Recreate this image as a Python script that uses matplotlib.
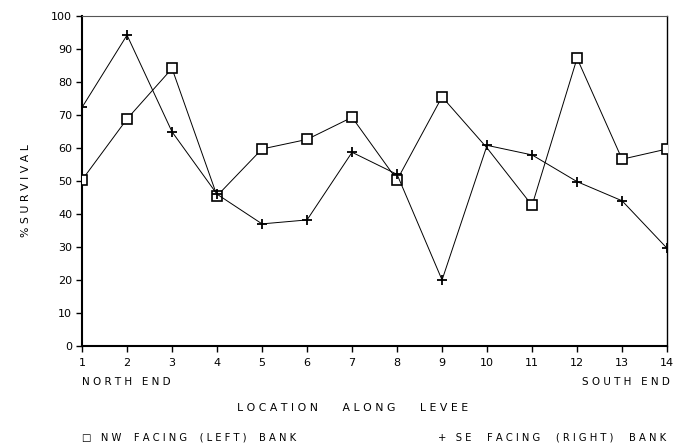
import matplotlib
matplotlib.use("Agg")
import matplotlib.pyplot as plt

locations = list(range(1, 15))
nw_left = [50.3, 68.8, 84.1, 45.5, 59.7, 62.6, 69.3, 50.3, 75.5, 60.0, 42.6, 87.2, 56.6, 59.7]
se_right = [72.3, 94.2, 64.9, 46.0, 37.0, 38.2, 58.7, 52.0, 20.0, 60.8, 57.9, 49.8, 44.0, 29.6]
y_ticks = [0, 10, 20, 30, 40, 50, 60, 70, 80, 90, 100]

def spaced(s, gap="   "):
    return gap.join(" ".join(w) for w in s.split(" "))

plt.rcParams['font.family'] = ['DejaVu Sans']
fig = plt.figure(figsize=(6.87, 4.47), dpi=100)
ax = fig.add_axes([0.1194, 0.2260, 0.8516, 0.7382])

nw_marks = [i for i in range(len(locations)) if locations[i] != 10]
ax.plot(locations, nw_left, color='black', lw=0.7, marker='s', ms=6.5,
        mfc='white', mec='black', mew=1.2, markevery=nw_marks, zorder=3)
ax.plot(locations, se_right, color='black', lw=0.7, marker='+', ms=7,
        mew=1.3, zorder=4)

ax.set_xlim(1, 14)
ax.set_ylim(0, 100)
ax.set_xticks(locations)
ax.set_yticks(y_ticks)
ax.tick_params(axis='both', direction='out', length=4, width=1.0, labelsize=8,
               colors='black', pad=3)
ax.tick_params(axis='x', pad=5)
for s in ['left', 'bottom']:
    ax.spines[s].set_linewidth(1.5)
ax.spines['right'].set_linewidth(1.0)
ax.spines['top'].set_linewidth(0.8)
ax.spines['top'].set_color('#555555')

ax.set_ylabel(spaced("% SURVIVAL", " "), fontsize=7.8)
ax.yaxis.set_label_coords(-0.088, 0.47)

fig.text(0.1194, 1 - 382 / 447, spaced("NORTH END"), fontsize=7.5, ha='left', va='center')
fig.text(0.975, 1 - 382 / 447, spaced("SOUTH END"), fontsize=7.5, ha='right', va='center')
fig.text(0.513, 1 - 408 / 447, spaced("LOCATION ALONG LEVEE", "       "), fontsize=7.8,
         ha='center', va='center')
fig.text(0.1194, 1 - 438 / 447, "\u25a1   " + spaced("NW FACING (LEFT) BANK", "    "), fontsize=7.2,
         ha='left', va='center')
fig.text(0.970, 1 - 438 / 447, "+   " + spaced("SE FACING (RIGHT) BANK", "     "), fontsize=7.2,
         ha='right', va='center')

fig.savefig("out.png", dpi=100)
